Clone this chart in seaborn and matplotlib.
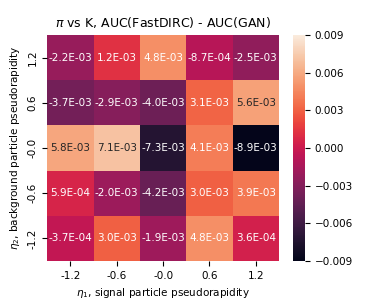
import numpy as np
import pandas as pd
import seaborn as sns
import matplotlib
matplotlib.use("Agg")
import matplotlib.pyplot as plt

# eta bins
eta1_labels = ["-1.2", "-0.6", "-0.0", "0.6", "1.2"]
eta2_labels = ["1.2", "0.6", "-0.0", "-0.6", "-1.2"]

# AUC(FastDIRC) - AUC(GAN), rows top to bottom
row_p12 = [-2.2e-3, 1.2e-3, 4.8e-3, -8.7e-4, -2.5e-3]
row_p06 = [-3.7e-3, -2.9e-3, -4.0e-3, 3.1e-3, 5.6e-3]
row_00 = [5.8e-3, 7.1e-3, -7.3e-3, 4.1e-3, -8.9e-3]
row_m06 = [5.9e-4, -2.0e-3, -4.2e-3, 3.0e-3, 3.9e-3]
row_m12 = [-3.7e-4, 3.0e-3, -1.9e-3, 4.8e-3, 3.6e-4]

diff = pd.DataFrame([row_p12, row_p06, row_00, row_m06, row_m12],
                    index=eta2_labels, columns=eta1_labels)

fig = plt.figure(figsize=(3.74, 2.99), dpi=100)
ax = fig.add_axes([0.126, 0.127, 0.62, 0.756])
cax = fig.add_axes([0.783, 0.127, 0.032, 0.756])

sns.heatmap(diff, ax=ax, cbar_ax=cax, vmin=-0.009, vmax=0.009,
            annot=True, fmt=".1E", annot_kws={"size": 7.5})

ax.set_title(r"$\pi$ vs K, AUC(FastDIRC) - AUC(GAN)", fontsize=9)
ax.set_xlabel(r"$\eta_1$, signal particle pseudorapidity", fontsize=7.5)
ax.set_ylabel(r"$\eta_2$, background particle pseudorapidity", fontsize=7.5)
ax.tick_params(labelsize=7.5)
plt.setp(ax.get_yticklabels(), rotation=90, va="center")

cax.set_yticks([-0.009, -0.006, -0.003, 0.0, 0.003, 0.006, 0.009])
cax.tick_params(labelsize=7.5)

fig.savefig("out.png", dpi=100)
